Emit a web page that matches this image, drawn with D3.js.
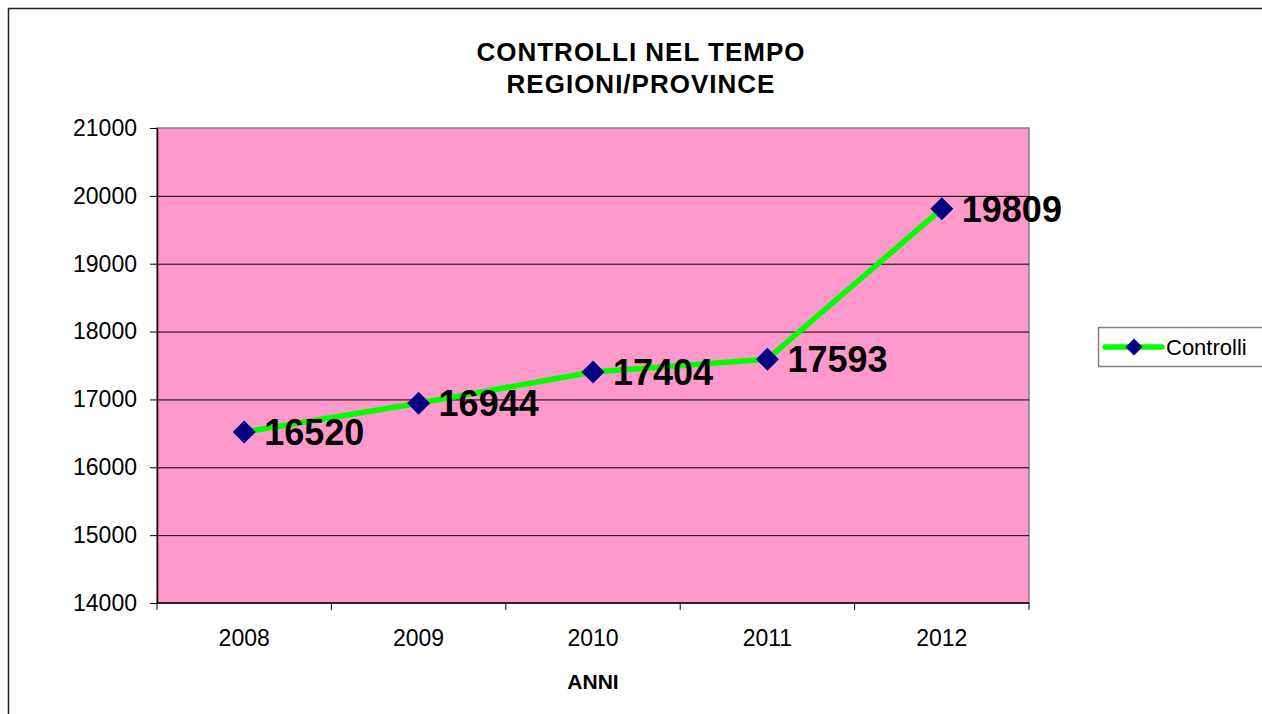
<!DOCTYPE html>
<html>
<head>
<meta charset="utf-8">
<script src="https://cdn.jsdelivr.net/npm/d3@7"></script>
<style>
  body { margin: 0; background: #fff; }
  svg { display: block; font-family: "Liberation Sans", Arial, sans-serif; }
</style>
</head>
<body>
<div id="container"></div>
<script>
const years = ["2008", "2009", "2010", "2011", "2012"];
const controlli = [16520, 16944, 17404, 17593, 19809];
const yTicks = [14000, 15000, 16000, 17000, 18000, 19000, 20000, 21000];
const titleLines = ["CONTROLLI NEL TEMPO", "REGIONI/PROVINCE"];
const seriesName = "Controlli";
const xTitle = "ANNI";

const width = 1262;
const height = 714;
const margin = { top: 128, right: 233, bottom: 111, left: 157 };

const svg = d3.select("#container").append("svg")
  .attr("width", width)
  .attr("height", height);

// outer chart frame (cut by the window on the right and bottom)
svg.append("rect")
  .attr("x", 8.5).attr("y", 8.5)
  .attr("width", width).attr("height", height)
  .attr("fill", "none")
  .attr("stroke", "#222")
  .attr("stroke-width", 1.5);

const x = d3.scaleBand()
  .domain(years)
  .range([margin.left, width - margin.right]);

const y = d3.scaleLinear()
  .domain([14000, 21000])
  .range([height - margin.bottom, margin.top]);

// plot area
svg.append("rect")
  .attr("x", margin.left)
  .attr("y", margin.top)
  .attr("width", width - margin.left - margin.right)
  .attr("height", height - margin.top - margin.bottom)
  .attr("fill", "#ff99cc")
  .attr("stroke", "#808080")
  .attr("stroke-width", 1.5);

// gridlines
svg.append("g")
  .attr("class", "y-gridlines")
  .attr("transform", `translate(${margin.left},0)`)
  .call(d3.axisLeft(y).tickValues(yTicks.slice(1, -1))
    .tickSize(-(width - margin.left - margin.right)).tickFormat(""))
  .call(g => g.select(".domain").remove())
  .call(g => g.selectAll("line").attr("stroke", "#000").attr("stroke-width", 1));

// y axis
svg.append("g")
  .attr("transform", `translate(${margin.left},0)`)
  .call(d3.axisLeft(y).tickValues(yTicks).tickFormat(d3.format("d"))
    .tickSize(7).tickPadding(13).tickSizeOuter(0))
  .call(g => g.select(".domain").attr("stroke", "#000").attr("stroke-width", 1.5))
  .call(g => g.selectAll("line").attr("stroke", "#000"))
  .call(g => g.selectAll("text")
    .attr("font-size", 23).attr("fill", "#000")
    .attr("font-family", "'Liberation Sans', Arial, sans-serif"));

// x axis, ticks at category boundaries
const xAxis = svg.append("g")
  .attr("transform", `translate(0,${height - margin.bottom})`);
xAxis.append("line")
  .attr("x1", margin.left).attr("x2", width - margin.right)
  .attr("stroke", "#000").attr("stroke-width", 1.5);
const bounds = years.map(d => x(d)).concat([x(years[years.length - 1]) + x.bandwidth()]);
xAxis.selectAll(".tk").data(bounds).enter().append("line")
  .attr("x1", d => d).attr("x2", d => d)
  .attr("y1", 0).attr("y2", 7)
  .attr("stroke", "#000");
xAxis.selectAll(".lbl").data(years).enter().append("text")
  .attr("x", d => x(d) + x.bandwidth() / 2)
  .attr("y", 43)
  .attr("text-anchor", "middle")
  .attr("font-size", 23)
  .text(d => d);

// x axis title
svg.append("text")
  .attr("x", margin.left + (width - margin.left - margin.right) / 2)
  .attr("y", 689)
  .attr("text-anchor", "middle")
  .attr("font-size", 21)
  .attr("font-weight", "bold")
  .text(xTitle);

// chart title
svg.append("g").selectAll("text").data(titleLines).enter().append("text")
  .attr("x", 641)
  .attr("y", (d, i) => 61 + i * 32)
  .attr("text-anchor", "middle")
  .attr("font-size", 26)
  .attr("font-weight", "bold")
  .attr("letter-spacing", 1)
  .text(d => d);

const data = years.map((d, i) => ({ year: d, value: controlli[i] }));
const cx = d => x(d.year) + x.bandwidth() / 2;

const line = d3.line()
  .x(cx)
  .y(d => y(d.value));

svg.append("path")
  .datum(data)
  .attr("fill", "none")
  .attr("stroke", "#00ff00")
  .attr("stroke-width", 5.5)
  .attr("stroke-linejoin", "round")
  .attr("d", line);

const diamond = r => `M0,${-r}L${r},0L0,${r}L${-r},0Z`;

svg.append("g").selectAll("path").data(data).enter().append("path")
  .attr("transform", d => `translate(${cx(d)},${y(d.value)})`)
  .attr("d", diamond(11.5))
  .attr("fill", "#000080");

svg.append("g").selectAll("text").data(data).enter().append("text")
  .attr("x", d => cx(d) + 20)
  .attr("y", d => y(d.value) + 13)
  .attr("font-size", 36)
  .attr("font-weight", "bold")
  .text(d => d.value);

// legend
const legend = svg.append("g").attr("transform", "translate(1098,327)");
legend.append("rect")
  .attr("x", 0.5).attr("y", 0.5)
  .attr("width", 200).attr("height", 39)
  .attr("fill", "#fff")
  .attr("stroke", "#808080")
  .attr("stroke-width", 1.5);
legend.append("line")
  .attr("x1", 7).attr("x2", 64)
  .attr("y1", 20).attr("y2", 20)
  .attr("stroke", "#00ff00")
  .attr("stroke-width", 5.5)
  .attr("stroke-linecap", "round");
legend.append("path")
  .attr("transform", "translate(36,20)")
  .attr("d", diamond(8.5))
  .attr("fill", "#000080");
legend.append("text")
  .attr("x", 68)
  .attr("y", 28)
  .attr("font-size", 22)
  .text(seriesName);
</script>
</body>
</html>
